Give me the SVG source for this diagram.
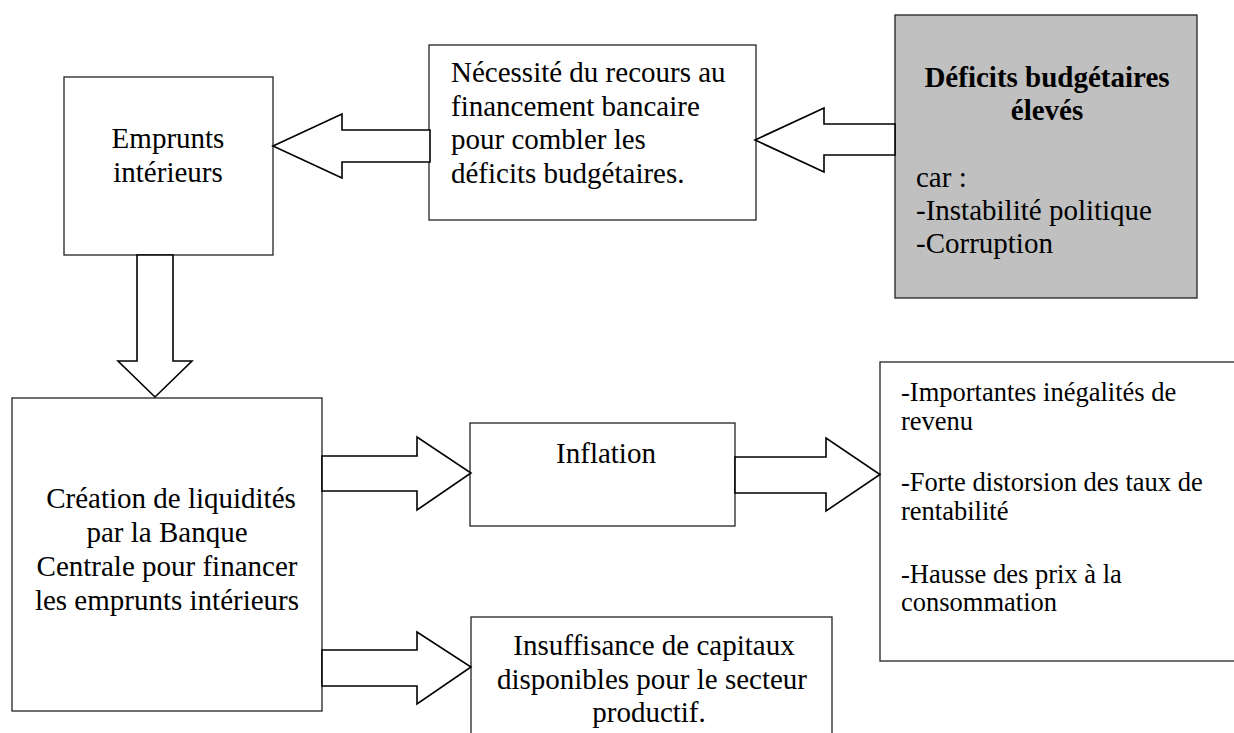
<svg xmlns="http://www.w3.org/2000/svg" width="1234" height="733" viewBox="0 0 1234 733">
<style>
.box{fill:#fff;stroke:#222;stroke-width:1.3}
.grey{fill:#c0c0c0}
.arr{fill:#fff;stroke:#000;stroke-width:1.6;stroke-linejoin:miter}
text{font-family:"Liberation Serif","Times New Roman",serif;font-size:29px;fill:#000}
.c{text-anchor:middle}
.b{font-weight:bold}
.s{font-size:26.5px}
</style>
<rect width="1234" height="733" fill="#fff"/>
<g id="emprunts">
<rect class="box" x="64" y="77" width="209" height="178"/>
<text class="c" x="168" y="148">Emprunts</text>
<text class="c" x="168" y="182">intérieurs</text>
</g>
<g id="necessite">
<rect class="box" x="429" y="45" width="327" height="175"/>
<text x="451" y="82">Nécessité du recours au</text>
<text x="451" y="115.5">financement bancaire</text>
<text x="451" y="149">pour combler les</text>
<text x="451" y="182.5">déficits budgétaires.</text>
</g>
<g id="deficits">
<rect class="box grey" x="895" y="15" width="302" height="283"/>
<text class="c b" x="1047" y="87">Déficits budgétaires</text>
<text class="c b" x="1047" y="120">élevés</text>
<text x="916" y="187">car :</text>
<text x="916" y="220">-Instabilité politique</text>
<text x="916" y="253">-Corruption</text>
</g>
<g id="creation">
<rect class="box" x="12" y="398" width="310" height="313"/>
<text class="c" x="171" y="508">Création de liquidités</text>
<text class="c" x="167" y="542">par la Banque</text>
<text class="c" x="167" y="576">Centrale pour financer</text>
<text class="c" x="167" y="609.5">les emprunts intérieurs</text>
</g>
<g id="inflation">
<rect class="box" x="470" y="423" width="265" height="103"/>
<text class="c" x="606" y="463">Inflation</text>
</g>
<g id="insuffisance">
<rect class="box" x="471" y="617" width="361" height="130"/>
<text class="c" x="654" y="655">Insuffisance de capitaux</text>
<text class="c" x="652" y="688.5">disponibles pour le secteur</text>
<text class="c" x="649" y="722">productif.</text>
</g>
<g id="effets">
<rect class="box" x="880" y="362" width="360" height="299"/>
<text class="s" x="901" y="401">-Importantes inégalités de</text>
<text class="s" x="901" y="429.5">revenu</text>
<text class="s" x="901" y="491">-Forte distorsion des taux de</text>
<text class="s" x="901" y="519.5">rentabilité</text>
<text class="s" x="901" y="582.5">-Hausse des prix à la</text>
<text class="s" x="901" y="611">consommation</text>
</g>
<g id="connectors">
<polygon class="arr" points="755,140 824,108 824,124 895,124 895,155 824,155 824,172"/>
<polygon class="arr" points="273,146 342,114 342,130 430,130 430,162 342,162 342,178"/>
<polygon class="arr" points="137,255 173,255 173,361 192,361 155,397 118,361 137,361"/>
<polygon class="arr" points="322,456 417,456 417,437 471,473 417,510 417,491 322,491"/>
<polygon class="arr" points="322,650 417,650 417,632 471,667 417,704 417,686 322,686"/>
<polygon class="arr" points="735,457 826,457 826,438 880,474.5 826,511 826,493 735,493"/>
</g>
</svg>
